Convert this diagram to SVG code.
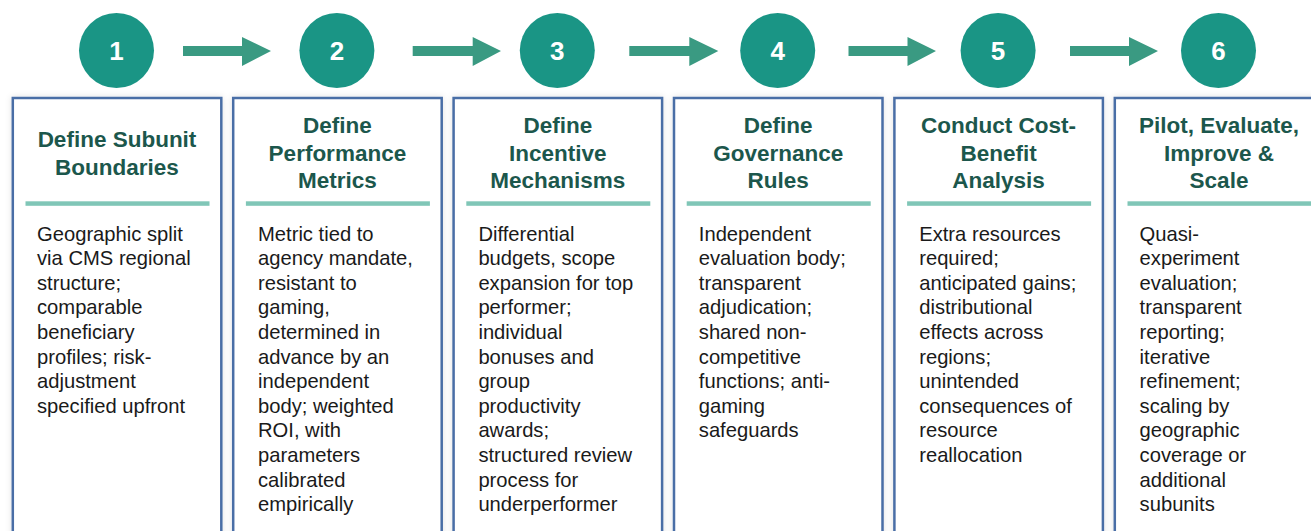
<svg xmlns="http://www.w3.org/2000/svg" width="1311" height="531" viewBox="0 0 1311 531">
  <defs>
    <filter id="shadow" x="-10%" y="-10%" width="120%" height="120%">
      <feDropShadow dx="0" dy="0" stdDeviation="3" flood-color="#000" flood-opacity="0.12"/>
    </filter>
    <filter id="soft" filterUnits="userSpaceOnUse" x="0" y="190" width="1311" height="30">
      <feGaussianBlur stdDeviation="0.6"/>
    </filter>
  </defs>
  <style>
    .step { fill: #1a9585; }
    .num { font-family: "Liberation Sans", Arial, sans-serif; font-weight: bold; font-size: 26px; fill: #ffffff; text-anchor: middle; }
    .card { fill: #ffffff; stroke: #4a6ea6; stroke-width: 2.5; }
    .title { font-family: "Liberation Sans", Arial, sans-serif; font-weight: bold; font-size: 22.5px; fill: #1c574c; text-anchor: middle; }
    .rule { fill: #80c6b7; }
    .body { font-family: "Liberation Sans", Arial, sans-serif; font-size: 20.2px; fill: #1a1a1a; }
    .arrow { fill: #3a9a82; }
  </style>
  <rect width="1311" height="531" fill="#ffffff"/>

  <!-- connectors between the numbered steps -->
  <g id="connectors">
    <path class="arrow" d="M183 46 H242 V37 L271 51 L242 66 V56 H183 Z"/>
    <path class="arrow" d="M412.7 46 H472.7 V37 L501 51 L472.7 66 V56 H412.7 Z"/>
    <path class="arrow" d="M629.3 46 H689.3 V37 L718.3 51 L689.3 66 V56 H629.3 Z"/>
    <path class="arrow" d="M848.5 46 H907.5 V37 L936 51 L907.5 66 V56 H848.5 Z"/>
    <path class="arrow" d="M1070 46 H1129 V37 L1158 51 L1129 66 V56 H1070 Z"/>
  </g>

  <g id="step1">
    <circle class="step" cx="116.5" cy="50.5" r="37.5"/>
    <text class="num" x="116.5" y="60">1</text>
    <rect class="card" x="12.8" y="98" width="208.5" height="440" filter="url(#shadow)"/>
    <text class="title" x="117" y="147">Define Subunit</text>
    <text class="title" x="117" y="174.5">Boundaries</text>
    <rect class="rule" x="25.5" y="201.3" width="184" height="4.5" filter="url(#soft)"/>
    <text class="body" x="37">
      <tspan x="37" y="240.5">Geographic split</tspan>
      <tspan x="37" y="265.1">via CMS regional</tspan>
      <tspan x="37" y="289.7">structure;</tspan>
      <tspan x="37" y="314.3">comparable</tspan>
      <tspan x="37" y="338.9">beneficiary</tspan>
      <tspan x="37" y="363.5">profiles; risk-</tspan>
      <tspan x="37" y="388.1">adjustment</tspan>
      <tspan x="37" y="412.7">specified upfront</tspan>
    </text>
  </g>

  <g id="step2">
    <circle class="step" cx="336.9" cy="50.5" r="37.5"/>
    <text class="num" x="336.9" y="60">2</text>
    <rect class="card" x="233.2" y="98" width="208.5" height="440" filter="url(#shadow)"/>
    <text class="title" x="337.4" y="133">Define</text>
    <text class="title" x="337.4" y="160.5">Performance</text>
    <text class="title" x="337.4" y="188">Metrics</text>
    <rect class="rule" x="245.9" y="201.3" width="184" height="4.5" filter="url(#soft)"/>
    <text class="body" x="258">
      <tspan x="258" y="240.5">Metric tied to</tspan>
      <tspan x="258" y="265.1">agency mandate,</tspan>
      <tspan x="258" y="289.7">resistant to</tspan>
      <tspan x="258" y="314.3">gaming,</tspan>
      <tspan x="258" y="338.9">determined in</tspan>
      <tspan x="258" y="363.5">advance by an</tspan>
      <tspan x="258" y="388.1">independent</tspan>
      <tspan x="258" y="412.7">body; weighted</tspan>
      <tspan x="258" y="437.3">ROI, with</tspan>
      <tspan x="258" y="461.9">parameters</tspan>
      <tspan x="258" y="486.5">calibrated</tspan>
      <tspan x="258" y="511.1">empirically</tspan>
    </text>
  </g>

  <g id="step3">
    <circle class="step" cx="557.3" cy="50.5" r="37.5"/>
    <text class="num" x="557.3" y="60">3</text>
    <rect class="card" x="453.6" y="98" width="208.5" height="440" filter="url(#shadow)"/>
    <text class="title" x="557.8" y="133">Define</text>
    <text class="title" x="557.8" y="160.5">Incentive</text>
    <text class="title" x="557.8" y="188">Mechanisms</text>
    <rect class="rule" x="466.3" y="201.3" width="184" height="4.5" filter="url(#soft)"/>
    <text class="body" x="478.4">
      <tspan x="478.4" y="240.5">Differential</tspan>
      <tspan x="478.4" y="265.1">budgets, scope</tspan>
      <tspan x="478.4" y="289.7">expansion for top</tspan>
      <tspan x="478.4" y="314.3">performer;</tspan>
      <tspan x="478.4" y="338.9">individual</tspan>
      <tspan x="478.4" y="363.5">bonuses and</tspan>
      <tspan x="478.4" y="388.1">group</tspan>
      <tspan x="478.4" y="412.7">productivity</tspan>
      <tspan x="478.4" y="437.3">awards;</tspan>
      <tspan x="478.4" y="461.9">structured review</tspan>
      <tspan x="478.4" y="486.5">process for</tspan>
      <tspan x="478.4" y="511.1">underperformer</tspan>
    </text>
  </g>

  <g id="step4">
    <circle class="step" cx="777.7" cy="50.5" r="37.5"/>
    <text class="num" x="777.7" y="60">4</text>
    <rect class="card" x="674" y="98" width="208.5" height="440" filter="url(#shadow)"/>
    <text class="title" x="778.2" y="133">Define</text>
    <text class="title" x="778.2" y="160.5">Governance</text>
    <text class="title" x="778.2" y="188">Rules</text>
    <rect class="rule" x="686.7" y="201.3" width="184" height="4.5" filter="url(#soft)"/>
    <text class="body" x="698.8">
      <tspan x="698.8" y="240.5">Independent</tspan>
      <tspan x="698.8" y="265.1">evaluation body;</tspan>
      <tspan x="698.8" y="289.7">transparent</tspan>
      <tspan x="698.8" y="314.3">adjudication;</tspan>
      <tspan x="698.8" y="338.9">shared non-</tspan>
      <tspan x="698.8" y="363.5">competitive</tspan>
      <tspan x="698.8" y="388.1">functions; anti-</tspan>
      <tspan x="698.8" y="412.7">gaming</tspan>
      <tspan x="698.8" y="437.3">safeguards</tspan>
    </text>
  </g>

  <g id="step5">
    <circle class="step" cx="998.1" cy="50.5" r="37.5"/>
    <text class="num" x="998.1" y="60">5</text>
    <rect class="card" x="894.4" y="98" width="208.5" height="440" filter="url(#shadow)"/>
    <text class="title" x="998.6" y="133">Conduct Cost-</text>
    <text class="title" x="998.6" y="160.5">Benefit</text>
    <text class="title" x="998.6" y="188">Analysis</text>
    <rect class="rule" x="907.1" y="201.3" width="184" height="4.5" filter="url(#soft)"/>
    <text class="body" x="919.2">
      <tspan x="919.2" y="240.5">Extra resources</tspan>
      <tspan x="919.2" y="265.1">required;</tspan>
      <tspan x="919.2" y="289.7">anticipated gains;</tspan>
      <tspan x="919.2" y="314.3">distributional</tspan>
      <tspan x="919.2" y="338.9">effects across</tspan>
      <tspan x="919.2" y="363.5">regions;</tspan>
      <tspan x="919.2" y="388.1">unintended</tspan>
      <tspan x="919.2" y="412.7">consequences of</tspan>
      <tspan x="919.2" y="437.3">resource</tspan>
      <tspan x="919.2" y="461.9">reallocation</tspan>
    </text>
  </g>

  <g id="step6">
    <circle class="step" cx="1218.5" cy="50.5" r="37.5"/>
    <text class="num" x="1218.5" y="60">6</text>
    <rect class="card" x="1114.8" y="98" width="208.5" height="440" filter="url(#shadow)"/>
    <text class="title" x="1219" y="133">Pilot, Evaluate,</text>
    <text class="title" x="1219" y="160.5">Improve &amp;</text>
    <text class="title" x="1219" y="188">Scale</text>
    <rect class="rule" x="1127.5" y="201.3" width="184" height="4.5" filter="url(#soft)"/>
    <text class="body" x="1139.6">
      <tspan x="1139.6" y="240.5">Quasi-</tspan>
      <tspan x="1139.6" y="265.1">experiment</tspan>
      <tspan x="1139.6" y="289.7">evaluation;</tspan>
      <tspan x="1139.6" y="314.3">transparent</tspan>
      <tspan x="1139.6" y="338.9">reporting;</tspan>
      <tspan x="1139.6" y="363.5">iterative</tspan>
      <tspan x="1139.6" y="388.1">refinement;</tspan>
      <tspan x="1139.6" y="412.7">scaling by</tspan>
      <tspan x="1139.6" y="437.3">geographic</tspan>
      <tspan x="1139.6" y="461.9">coverage or</tspan>
      <tspan x="1139.6" y="486.5">additional</tspan>
      <tspan x="1139.6" y="511.1">subunits</tspan>
    </text>
  </g>
</svg>
